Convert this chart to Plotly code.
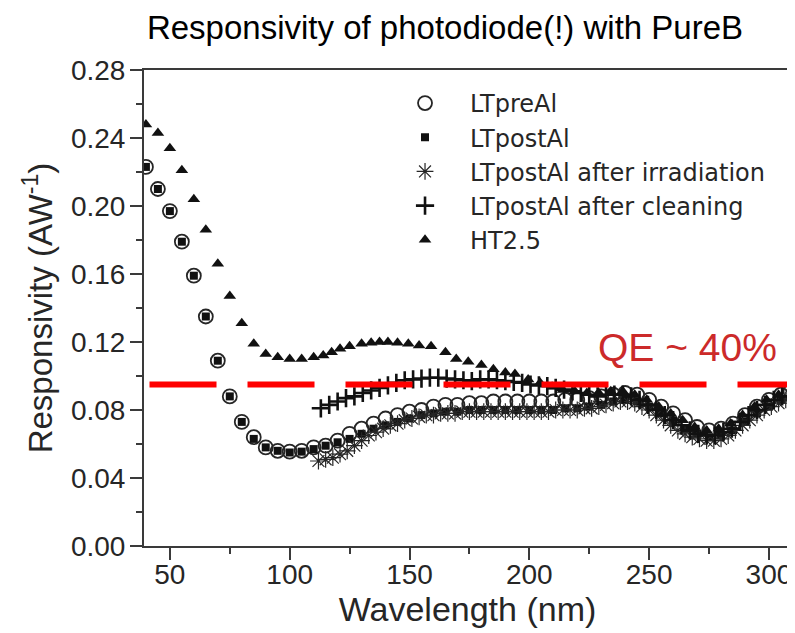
import plotly.graph_objects as go

# ---------------- data ----------------
wl_pre = [40, 45, 50, 55, 60, 65, 70, 75, 80, 85, 90, 95, 100, 105, 110, 115, 120, 125, 130, 135,
          140, 145, 150, 155, 160, 165, 170, 175, 180, 185, 190, 195, 200, 205, 210, 215, 220, 225,
          230, 235, 240, 245, 250, 255, 260, 265, 270, 275, 280, 285, 290, 295, 300, 305, 309]
r_pre = [0.223, 0.210, 0.197, 0.179, 0.159, 0.135, 0.109, 0.088, 0.073, 0.064, 0.058, 0.056, 0.0555,
         0.056, 0.058, 0.059, 0.062, 0.066, 0.069, 0.072, 0.075, 0.077, 0.079, 0.080, 0.082, 0.083,
         0.083, 0.084, 0.084, 0.085, 0.085, 0.085, 0.085, 0.085, 0.085, 0.086, 0.086, 0.087, 0.088,
         0.089, 0.090, 0.089, 0.086, 0.082, 0.078, 0.074, 0.070, 0.068, 0.069, 0.072, 0.077, 0.082,
         0.086, 0.089, 0.091]

wl_post = wl_pre
r_post = [0.223, 0.210, 0.197, 0.179, 0.159, 0.135, 0.109, 0.088, 0.073, 0.063, 0.058, 0.056, 0.055,
          0.0555, 0.057, 0.059, 0.061, 0.063, 0.066, 0.069, 0.071, 0.073, 0.075, 0.077, 0.078, 0.079,
          0.079, 0.080, 0.080, 0.080, 0.080, 0.080, 0.080, 0.080, 0.080, 0.081, 0.081, 0.082, 0.083,
          0.085, 0.086, 0.085, 0.082, 0.078, 0.074, 0.069, 0.066, 0.064, 0.065, 0.068, 0.073, 0.078,
          0.082, 0.086, 0.088]

wl_irr = [112, 115, 118, 121, 124, 127, 130, 133, 136, 139, 142, 145, 148, 151, 154, 157, 160, 163,
          166, 169, 172, 175, 178, 181, 184, 187, 190, 193, 196, 199, 202, 205, 208, 211, 214, 217,
          220, 223, 226, 229, 232, 235, 238, 241, 244, 247, 250, 253, 256, 259, 262, 265, 268, 271,
          274, 277, 280, 283, 286, 289, 292, 295, 298, 301, 304, 307]
r_irr = [0.050, 0.051, 0.052, 0.054, 0.056, 0.059, 0.062, 0.065, 0.067, 0.069, 0.071, 0.072, 0.074,
         0.075, 0.076, 0.077, 0.077, 0.078, 0.078, 0.078, 0.079, 0.079, 0.079, 0.079, 0.079, 0.079,
         0.079, 0.079, 0.079, 0.079, 0.079, 0.079, 0.079, 0.080, 0.080, 0.080, 0.080, 0.081, 0.081,
         0.082, 0.083, 0.084, 0.085, 0.085, 0.084, 0.082, 0.080, 0.077, 0.074, 0.071, 0.068, 0.066,
         0.064, 0.063, 0.062, 0.062, 0.063, 0.065, 0.068, 0.071, 0.074, 0.077, 0.080, 0.082, 0.084,
         0.086]

wl_clean = [113, 116.5, 120, 123.5, 127, 130.5, 134, 137.5, 141, 144.5, 148, 151.5, 155, 158.5, 162,
            165.5, 169, 172.5, 176, 179.5, 183, 186.5, 190, 193.5, 197, 200.5, 204, 207.5, 211,
            214.5, 218, 221.5, 225, 228.5, 232, 235.5, 239, 242.5, 246, 249.5, 253, 256.5, 260,
            263.5, 267, 270.5, 274, 277.5, 281, 284.5, 288, 291.5, 295, 298.5, 302, 305.5]
r_clean = [0.081, 0.083, 0.085, 0.087, 0.088, 0.090, 0.0915, 0.093, 0.0945, 0.096, 0.0975, 0.098,
           0.0985, 0.099, 0.099, 0.0985, 0.098, 0.0975, 0.097, 0.098, 0.098, 0.0975, 0.097, 0.0965,
           0.096, 0.095, 0.0945, 0.094, 0.093, 0.092, 0.091, 0.090, 0.089, 0.088, 0.089, 0.089,
           0.089, 0.088, 0.086, 0.083, 0.080, 0.077, 0.074, 0.071, 0.068, 0.066, 0.065, 0.065,
           0.067, 0.069, 0.073, 0.077, 0.080, 0.083, 0.086, 0.088]

wl_ht = [40, 45, 50, 55, 60, 65, 70, 75, 80, 85, 90, 95, 100, 105, 110, 114, 117.5, 121, 125, 130,
         134, 137.5, 141, 145, 149.5, 154, 159, 165, 169.5, 174.5, 180, 185, 190, 194, 199.5, 204.5,
         209.5, 214, 219, 224, 229, 234, 239, 244, 249, 254, 259, 264, 269, 274, 279, 284, 289, 294,
         299, 304]
r_ht = [0.248, 0.243, 0.234, 0.221, 0.204, 0.186, 0.166, 0.147, 0.131, 0.119, 0.113, 0.111, 0.110,
        0.110, 0.111, 0.112, 0.114, 0.116, 0.1175, 0.119, 0.1195, 0.120, 0.120, 0.1195, 0.119, 0.118,
        0.1175, 0.114, 0.110, 0.1084, 0.1065, 0.104, 0.102, 0.1012, 0.098, 0.096, 0.0937, 0.0918,
        0.091, 0.090, 0.090, 0.091, 0.091, 0.089, 0.086, 0.082, 0.078, 0.074, 0.070, 0.068, 0.069,
        0.072, 0.077, 0.082, 0.086, 0.089]

series_names = ["LTpreAl", "LTpostAl", "LTpostAl after irradiation", "LTpostAl after cleaning", "HT2.5"]
x_ticks = [50, 100, 150, 200, 250, 300]
x_minor = [75, 125, 175, 225, 275]
y_ticks = [0.00, 0.04, 0.08, 0.12, 0.16, 0.20, 0.24, 0.28]
y_tick_text = ["0.00", "0.04", "0.08", "0.12", "0.16", "0.20", "0.24", "0.28"]
y_minor = [0.02, 0.06, 0.10, 0.14, 0.18, 0.22, 0.26]
x_range = [39.2, 309.2]
y_range = [0.0, 0.28]
qe_level = 0.095
qe_x_start = 41.5
qe_label = "QE ~ 40%"
qe_label_pos = (266, 0.1165)

INK = "#262626"
AX = "#3a3a3a"
FONT = "Liberation Sans, Arial, sans-serif"

fig = go.Figure()
fig.add_trace(go.Scatter(x=wl_pre, y=r_pre, mode="markers", name=series_names[0],
                         marker=dict(symbol="circle-open", size=14, color=INK, line=dict(width=1.8, color=INK))))
fig.add_trace(go.Scatter(x=wl_post, y=r_post, mode="markers", name=series_names[1],
                         marker=dict(symbol="square", size=8, color="#111111")))
fig.add_trace(go.Scatter(x=wl_irr, y=r_irr, mode="markers", name=series_names[2],
                         marker=dict(symbol="asterisk-open", size=14, color=INK, line=dict(width=1.2, color=INK))))
fig.add_trace(go.Scatter(x=wl_clean, y=r_clean, mode="markers", name=series_names[3],
                         marker=dict(symbol="cross-thin-open", size=13, color="#111111",
                                     line=dict(width=2.6, color="#111111"))))
fig.add_trace(go.Scatter(x=wl_ht, y=r_ht, mode="markers", name=series_names[4],
                         marker=dict(symbol="triangle-up", size=11, color="#111111")))

# QE ~ 40% dashed reference line
fig.add_shape(type="line", xref="x", yref="y", x0=qe_x_start, x1=x_range[1] + 5, y0=qe_level, y1=qe_level,
              line=dict(color="#ff0000", width=6, dash="67px,31px"))
fig.add_annotation(x=qe_label_pos[0], y=qe_label_pos[1], xref="x", yref="y", text=qe_label,
                   showarrow=False, font=dict(size=39, color="#cc2a2a", family=FONT))

axis_line = dict(showline=True, linecolor=AX, linewidth=2, showgrid=False, zeroline=False)

# the page body has an 8px margin, so the figure is 8px smaller each way
fig.update_layout(
    width=787, height=625,
    paper_bgcolor="white", plot_bgcolor="white",
    margin=dict(l=136, r=4, t=62, b=87, autoexpand=False),
    font=dict(family=FONT, color=INK),
    title=dict(text="Responsivity of photodiode(!) with PureB", xref="container", yref="container",
               x=437 / 787, xanchor="center", y=1 - 19 / 625, yanchor="middle",
               font=dict(size=33, color="#000000", family=FONT)),
    xaxis=dict(range=x_range, tickvals=x_ticks, ticks="outside", ticklen=12, tickwidth=2, tickcolor=AX,
               tickfont=dict(size=28, color=INK), mirror=True, ticklabelstandoff=-10,
               minor=dict(tickvals=x_minor, ticks="outside", ticklen=6, tickwidth=2, tickcolor=AX),
               title=dict(text="Wavelength (nm)", font=dict(size=34, color=INK), standoff=4),
               **axis_line),
    yaxis=dict(range=y_range, tickvals=y_ticks, ticktext=y_tick_text, ticks="outside", ticklen=12, tickwidth=2,
               tickcolor=AX, tickfont=dict(size=28, color=INK), mirror=True, ticklabelstandoff=-1,
               minor=dict(tickvals=y_minor, ticks="outside", ticklen=6, tickwidth=2, tickcolor=AX),
               title=dict(text="Responsivity (AW<sup>-1</sup>)", font=dict(size=33, color=INK), standoff=8),
               **axis_line),
    xaxis2=dict(overlaying="x", side="top", range=x_range, tickvals=x_ticks, ticks="inside", ticklen=10,
                tickwidth=2, tickcolor=AX, showticklabels=False, showgrid=False, zeroline=False,
                minor=dict(tickvals=x_minor, ticks="inside", ticklen=6, tickwidth=2, tickcolor=AX)),
    yaxis2=dict(overlaying="y", side="right", range=y_range, tickvals=y_ticks, ticks="inside", ticklen=10,
                tickwidth=2, tickcolor=AX, showticklabels=False, showgrid=False, zeroline=False,
                minor=dict(tickvals=y_minor, ticks="inside", ticklen=6, tickwidth=2, tickcolor=AX)),
    legend=dict(x=0.3648, y=0.977, xanchor="left", yanchor="top", bgcolor="rgba(0,0,0,0)",
                font=dict(size=24, color=INK, family="DejaVu Sans"), tracegroupgap=0,
                itemsizing="trace", itemwidth=80),
)

fig.write_html("out.html")
